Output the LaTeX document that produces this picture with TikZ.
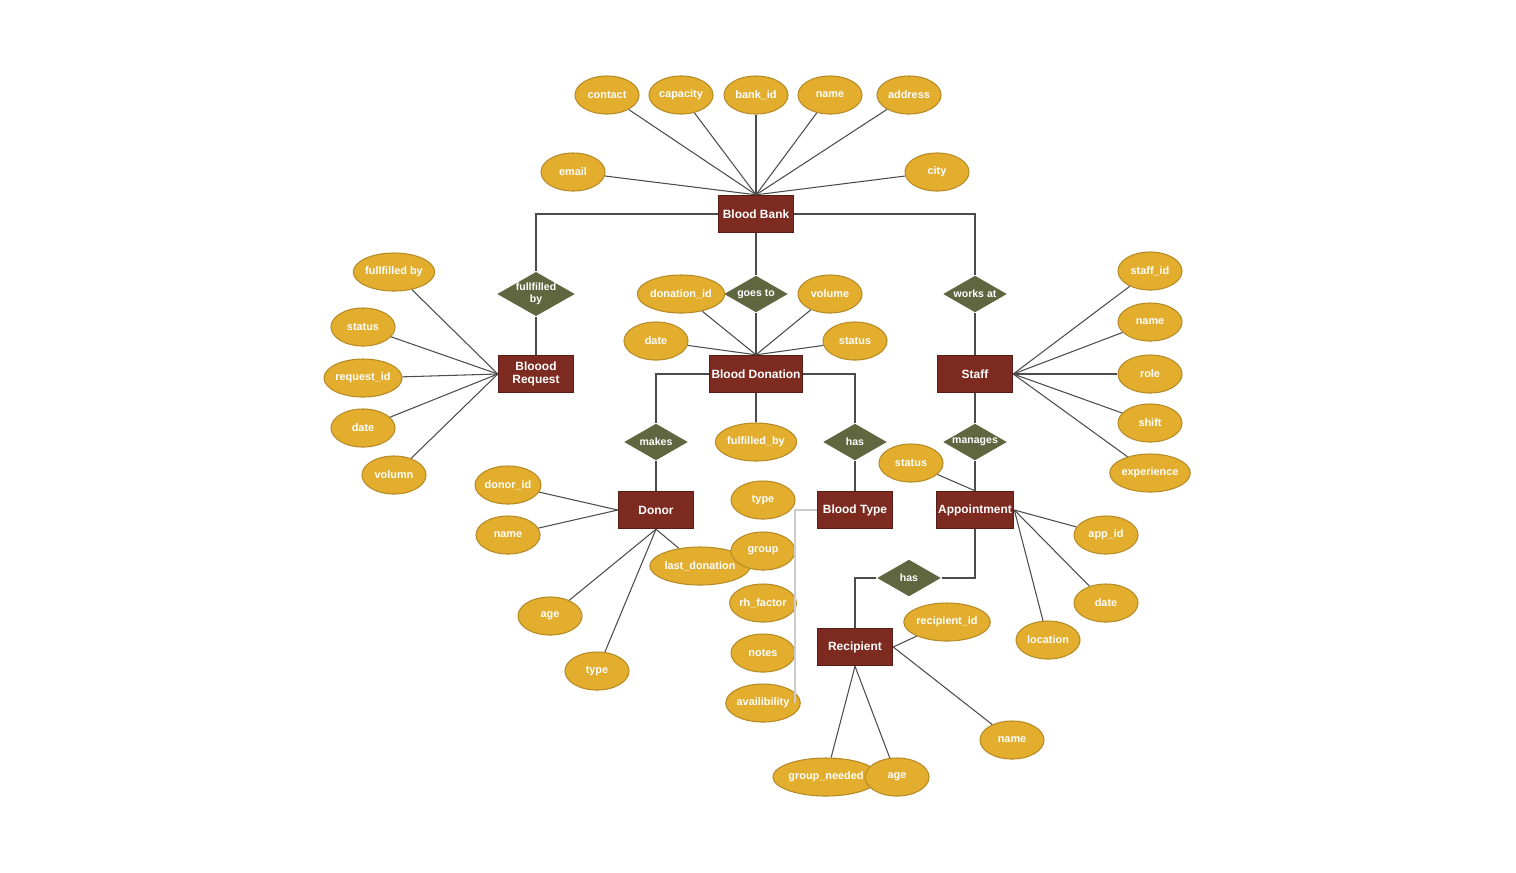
\documentclass[tikz,border=0pt]{standalone}
\usepackage{fontspec}
\setmainfont{Liberation Sans}
\usetikzlibrary{shapes.geometric}
\definecolor{entred}{HTML}{7D2A20}
\definecolor{relgreen}{HTML}{5F6640}
\definecolor{attryel}{HTML}{E3AD2E}
\begin{document}
\begin{tikzpicture}[x=0.01cm,y=-0.01cm]
    \tikzset{
    ent/.style={rectangle,minimum width=0.75cm,minimum height=0.37cm,inner sep=0.5pt,fill=entred,draw=entred!70!black,text=white,font=\fontsize{3.4}{3.9}\selectfont\bfseries,align=center},
    rel/.style={diamond,minimum width=0.64cm,minimum height=0.37cm,aspect=1.75,inner sep=0pt,fill=relgreen,text=white,font=\fontsize{3}{3.3}\selectfont\bfseries,align=center},
    attr/.style={ellipse,minimum width=0.64cm,minimum height=0.38cm,inner sep=0pt,fill=attryel,draw=attryel!80!black,line width=0.3pt,text=white,font=\fontsize{3.1}{3.6}\selectfont\bfseries},
    c1/.style={-,line width=0.3pt,draw=black!70},
    c2/.style={-,line width=0.3pt,draw=black!20},
    }
    \useasboundingbox (0,0) rectangle (1516,872);
    % entities
    \node[ent] (bank) at (756,214) {Blood Bank};
    \node[ent] (req) at (536,374) {Bloood\\Request};
    \node[ent] (don) at (756,374) {Blood Donation};
    \node[ent] (staff) at (975,374) {Staff};
    \node[ent] (donor) at (656,510) {Donor};
    \node[ent] (btype) at (855,510) {Blood Type};
    \node[ent] (app) at (975,510) {Appointment};
    \node[ent] (rec) at (855,647) {Recipient};
    % relationships
    \node[rel] (r1) at (536,294) {fullfilled\\by};
    \node[rel] (r2) at (756,294) {goes to};
    \node[rel] (r3) at (975,294) {works at};
    \node[rel] (r4) at (656,442) {makes};
    \node[rel] (r5) at (855,442) {has};
    \node[rel] (r6) at (975,442) {manages};
    \node[rel] (r7) at (909,578) {has};
    % blood bank attributes
    \node[attr] (b1) at (607,95) {contact};
    \node[attr] (b2) at (681,95) {capacity};
    \node[attr] (b3) at (756,95) {bank\_id};
    \node[attr] (b4) at (830,95) {name};
    \node[attr] (b5) at (909,95) {address};
    \node[attr] (b6) at (573,172) {email};
    \node[attr] (b7) at (937,172) {city};
    % request attributes
    \node[attr] (q1) at (394,272) {fullfilled by};
    \node[attr] (q2) at (363,327) {status};
    \node[attr] (q3) at (363,378) {request\_id};
    \node[attr] (q4) at (363,428) {date};
    \node[attr] (q5) at (394,475) {volumn};
    % donation attributes
    \node[attr] (d1) at (681,294) {donation\_id};
    \node[attr] (d2) at (830,294) {volume};
    \node[attr] (d3) at (656,341) {date};
    \node[attr] (d4) at (855,341) {status};
    \node[attr] (d5) at (756,442) {fulfilled\_by};
    % staff attributes
    \node[attr] (s1) at (1150,271) {staff\_id};
    \node[attr] (s2) at (1150,322) {name};
    \node[attr] (s3) at (1150,374) {role};
    \node[attr] (s4) at (1150,423) {shift};
    \node[attr] (s5) at (1150,473) {experience};
    % donor attributes
    \node[attr] (o1) at (508,485) {donor\_id};
    \node[attr] (o2) at (508,535) {name};
    \node[attr] (o3) at (700,566) {last\_donation};
    \node[attr] (o4) at (550,616) {age};
    \node[attr] (o5) at (597,671) {type};
    % blood type attributes
    \node[attr] (t1) at (763,500) {type};
    \node[attr] (t2) at (763,551) {group};
    \node[attr] (t3) at (763,603) {rh\_factor};
    \node[attr] (t4) at (763,653) {notes};
    \node[attr] (t5) at (763,703) {availibility};
    \coordinate (tbus) at (795,510);
    \coordinate (tend) at (795,703);
    % appointment attributes
    \node[attr] (a1) at (911,463) {status};
    \node[attr] (a2) at (1106,535) {app\_id};
    \node[attr] (a3) at (1106,603) {date};
    \node[attr] (a4) at (1048,640) {location};
    % recipient attributes
    \node[attr] (e1) at (947,622) {recipient\_id};
    \node[attr] (e2) at (1012,740) {name};
    \node[attr] (e3) at (826,777) {group\_needed};
    \node[attr] (e4) at (897,777) {age};

    \foreach \a in {b1,b2,b3,b4,b5,b6,b7} \draw[c1] (\a) -- (bank.north);
    \foreach \a in {q1,q2,q3,q4,q5} \draw[c1] (\a) -- (req.west);
    \foreach \a in {d1,d2,d3,d4} \draw[c1] (\a) -- (don.north);
    \draw[c1] (d5) -- (don);
    \foreach \a in {s1,s2,s3,s4,s5} \draw[c1] (\a) -- (staff.east);
    \foreach \a in {o1,o2} \draw[c1] (\a) -- (donor.west);
    \foreach \a in {o3,o4,o5} \draw[c1] (\a) -- (donor.south);
    \draw[c2] (btype.west) -- (tbus) -- (tend);
    \draw[c1] (a1) -- (app.north);
    \foreach \a in {a2,a3,a4} \draw[c1] (\a) -- (app.east);
    \draw[c1] (e1) -- (rec.east);
    \draw[c1] (e2) -- (rec.east);
    \foreach \a in {e3,e4} \draw[c1] (\a) -- (rec.south);

    \draw[c1] (bank.west) -| (r1.north);
    \draw[c1] (bank.east) -| (r3.north);
    \draw[c1] (bank) -- (r2);
    \draw[c1] (r1) -- (req);
    \draw[c1] (r2) -- (don);
    \draw[c1] (r3) -- (staff);
    \draw[c1] (don.west) -| (r4.north);
    \draw[c1] (don.east) -| (r5.north);
    \draw[c1] (r4) -- (donor);
    \draw[c1] (r5) -- (btype);
    \draw[c1] (staff) -- (r6);
    \draw[c1] (r6) -- (app);
    \draw[c1] (app.south) |- (r7.east);
    \draw[c1] (r7.west) -| (rec.north);
\end{tikzpicture}
\end{document}
